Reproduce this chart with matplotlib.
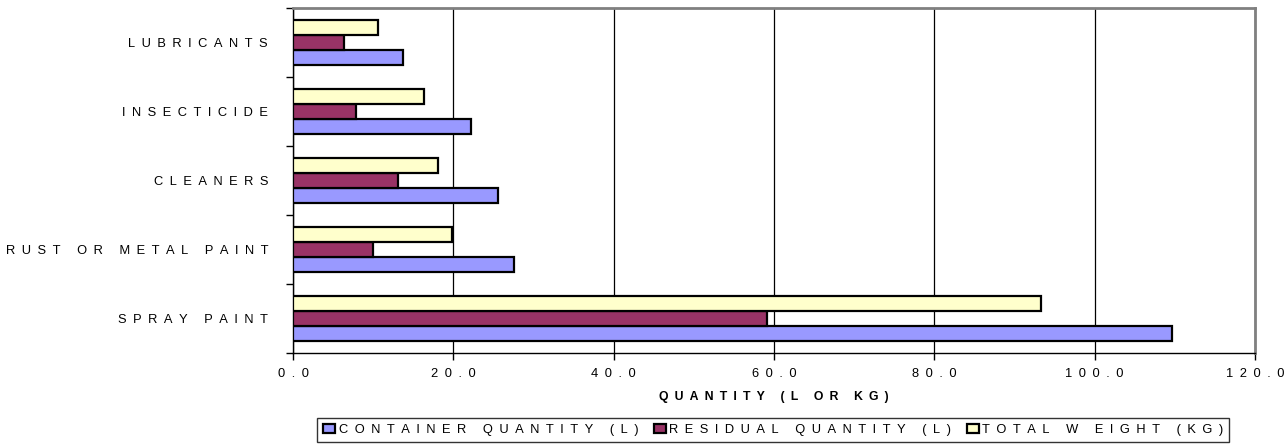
import numpy as np
import matplotlib.pyplot as plt

plt.rcParams['font.family'] = ['Liberation Sans', 'DejaVu Sans']

categories = ["SPRAY PAINT", "RUST OR METAL PAINT", "CLEANERS", "INSECTICIDE", "LUBRICANTS"]
container_qty = [109.6, 27.6, 25.6, 22.2, 13.7]
residual_qty = [59.1, 10.0, 13.1, 7.9, 6.4]
total_weight = [93.3, 19.8, 18.1, 16.3, 10.6]
series_names = ["CONTAINER QUANTITY (L)", "RESIDUAL QUANTITY (L)", "TOTAL W EIGHT (KG)"]
colors = ["#9999FF", "#993366", "#FFFFCC"]
x_ticks = [0, 20, 40, 60, 80, 100, 120]

FS = 9.3


def spaced(s):
    # wide letter spacing, en space between characters
    return "\u2002".join(s)


fig = plt.figure(figsize=(12.88, 4.45), dpi=100)
ax = fig.add_axes([0.2275, 0.2067, 0.7469, 0.7753])

y = np.arange(len(categories))
h = 0.222
for i, (vals, c, name) in enumerate(zip([container_qty, residual_qty, total_weight], colors, series_names)):
    ax.barh(y + (i - 1) * h, vals, height=h, color=c, edgecolor="black",
            linewidth=1.6, label=spaced(name), zorder=3)

ax.set_xlim(0, 120)
ax.set_ylim(-0.5, len(categories) - 0.5)
ax.set_xticks(x_ticks)
ax.set_xticklabels([spaced(f"{v:.1f}") for v in x_ticks], fontsize=FS)
ax.xaxis.grid(True, color="black", linewidth=0.9, zorder=0)

ax.set_yticks(np.arange(-0.5, len(categories)))
ax.set_yticklabels([])
ax.set_yticks(y, minor=True)
ax.set_yticklabels([spaced(c) for c in categories], minor=True, fontsize=FS)
ax.tick_params(axis="y", which="minor", length=0, pad=18)
ax.tick_params(axis="y", which="major", length=5, width=1, direction="out")
ax.tick_params(axis="x", length=5, width=1, direction="out", pad=6)

for side in ["top", "right"]:
    ax.spines[side].set_color("#808080")
    ax.spines[side].set_linewidth(2)
for side in ["left", "bottom"]:
    ax.spines[side].set_linewidth(1)

ax.set_xlabel(spaced("QUANTITY (L OR KG)"), fontsize=8.8, fontweight="bold", labelpad=8)

leg = fig.legend(loc="lower center", bbox_to_anchor=(0.6005, 0.0067), ncol=3, fontsize=FS,
                 frameon=True, fancybox=False, edgecolor="black", handlelength=0.9,
                 handleheight=0.7, handletextpad=0.3, columnspacing=1.2,
                 borderpad=0.45, borderaxespad=0)
leg.get_frame().set_linewidth(1)

fig.savefig("out.png", dpi=100)
